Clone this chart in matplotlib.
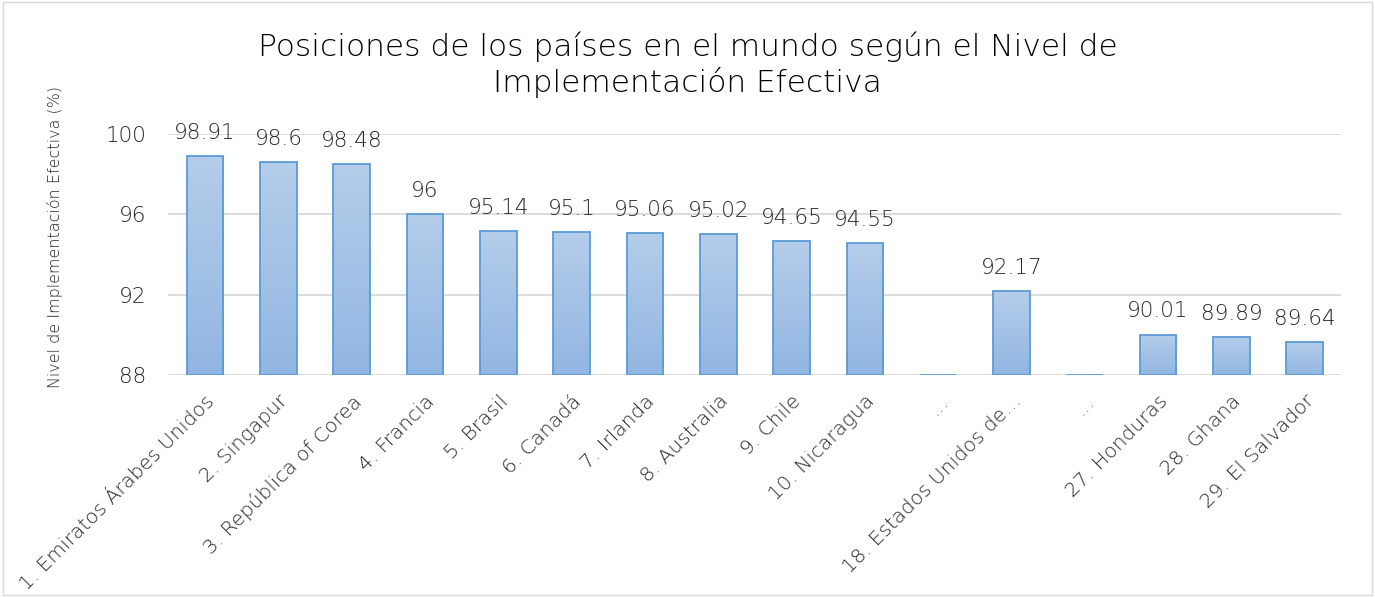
import matplotlib.pyplot as plt
import numpy as np
from matplotlib.patches import Rectangle
from matplotlib.colors import LinearSegmentedColormap

# Data
paises = ['1. Emiratos Árabes Unidos', '2. Singapur', '3. República of Corea', '4. Francia',
          '5. Brasil', '6. Canadá', '7. Irlanda', '8. Australia', '9. Chile', '10. Nicaragua',
          '...', '18. Estados Unidos de...', '...', '27. Honduras', '28. Ghana', '29. El Salvador']
valores = [98.91, 98.6, 98.48, 96, 95.14, 95.1, 95.06, 95.02, 94.65, 94.55,
           88, 92.17, 88, 90.01, 89.89, 89.64]
etiquetas = ['98.91', '98.6', '98.48', '96', '95.14', '95.1', '95.06', '95.02', '94.65', '94.55',
             '', '92.17', '', '90.01', '89.89', '89.64']
y_ticks = [88, 92, 96, 100]

plt.rcParams['font.family'] = ['DejaVu Sans']
plt.rcParams['font.weight'] = 'light'
texto = '#262626'

fig = plt.figure(figsize=(13.75, 5.97), dpi=100)
fig.patches.append(Rectangle((0.002, 0.003), 0.996, 0.994, transform=fig.transFigure,
                             fill=False, edgecolor='#d9d9d9', linewidth=1))
ax = fig.add_axes([0.1225, 0.372, 0.853, 0.404])

x = np.arange(len(paises))
ymin = 88
bars = ax.bar(x, np.array(valores) - ymin, bottom=ymin, width=0.5,
              facecolor='none', edgecolor='#5b9bd5', linewidth=1.3, zorder=3)

# vertical gradient fill per bar
grad = np.linspace(0, 1, 256).reshape(-1, 1)
cmap = LinearSegmentedColormap.from_list('g', ['#92b6e2', '#b4cdea'])
for b in bars:
    x0, w, h = b.get_x(), b.get_width(), b.get_height()
    if h <= 0:
        continue
    im = ax.imshow(grad, extent=[x0, x0 + w, ymin, ymin + h], origin='lower',
                   cmap=cmap, aspect='auto', zorder=2)
    im.set_clip_path(b)

for xi, v, lab in zip(x, valores, etiquetas):
    if lab:
        ax.text(xi, v + 0.65, lab, ha='center', va='bottom', fontsize=15.5, color=texto, zorder=4)

ax.set_xlim(-0.5, len(paises) - 0.5)
ax.set_ylim(88, 100)
ax.set_yticks(y_ticks)
ax.set_yticklabels([str(t) for t in y_ticks], fontsize=15.5, color=texto)
ax.set_xticks(x)
ax.set_xticklabels(paises, rotation=45, ha='right', rotation_mode='anchor',
                   fontsize=14.5, color=texto)
ax.tick_params(axis='y', length=0, pad=16)
ax.tick_params(axis='x', length=0, pad=12)
ax.grid(axis='y', color='#d9d9d9', linewidth=1.3, zorder=0)
ax.set_axisbelow(True)
for s in ax.spines.values():
    s.set_visible(False)

ax.set_ylabel('Nivel de Implementación Efectiva (%)', fontsize=11.5, color=texto,
              fontweight='light')
ax.yaxis.set_label_coords(-0.090, 0.573)

fig.text(0.5, 0.892, 'Posiciones de los países en el mundo según el Nivel de\nImplementación Efectiva',
         ha='center', va='center', fontsize=22.5, color='#000000', linespacing=1.2)

plt.savefig('out.png', dpi=100, facecolor='white')
